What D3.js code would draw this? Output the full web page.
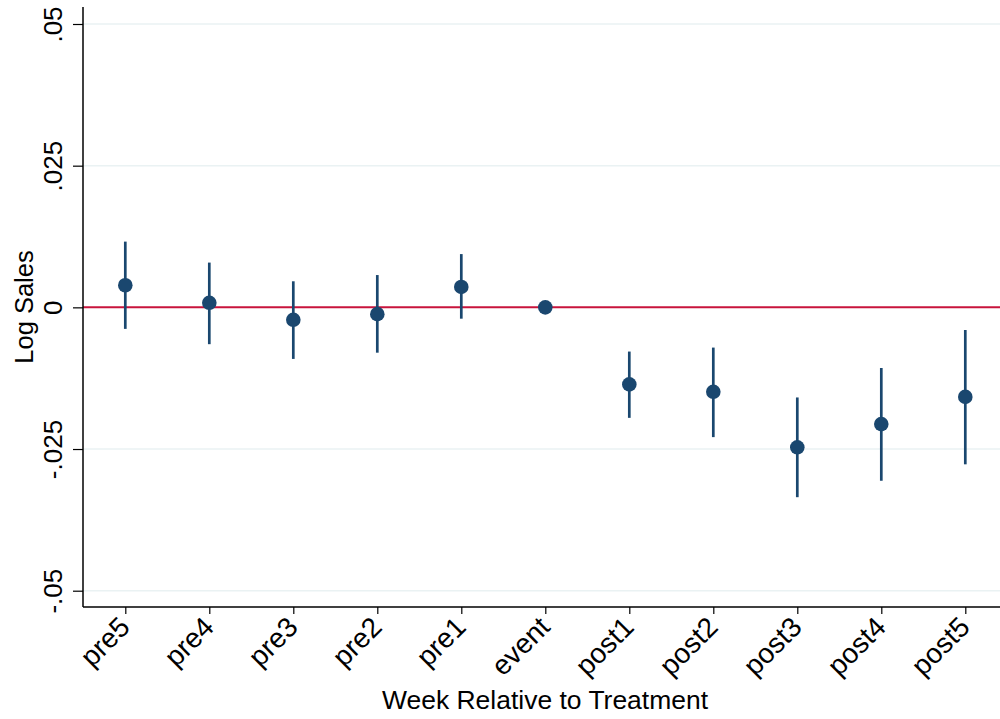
<!DOCTYPE html>
<html><head><meta charset="utf-8">
<script src="https://cdn.jsdelivr.net/npm/d3@7"></script>
<style>body{margin:0;background:#fff}svg{display:block;font-family:"Liberation Sans",Arial,Helvetica,sans-serif}</style>
</head><body>
<svg id="c" width="1000" height="719"></svg>
<script>
const categories = ["pre5","pre4","pre3","pre2","pre1","event","post1","post2","post3","post4","post5"];
const estimates = [0.0039, 0.0008, -0.0022, -0.0012, 0.0036, 0, -0.0136, -0.0149, -0.0247, -0.0206, -0.0158];
const ciLow  = [-0.0038, -0.0065, -0.0091, -0.0080, -0.0020, null, -0.0195, -0.0229, -0.0335, -0.0306, -0.0277];
const ciHigh = [0.0116, 0.0079, 0.0046, 0.0057, 0.0094, null, -0.0078, -0.0071, -0.0159, -0.0107, -0.0040];
const yTicks = [0.05, 0.025, 0, -0.025, -0.05];
const yTickLabels = [".05", ".025", "0", "-.025", "-.05"];

const svg = d3.select("#c");
const axL = 83, axR = 1000, axT = 7, axB = 607;
const y = d3.scaleLinear().domain([-0.05, 0.05]).range([590.7, 24]);
const x = d3.scalePoint().domain(categories).range([125.3, 965.3]);

// gridlines
svg.append("g").selectAll("line").data(yTicks.filter(d => d !== 0)).join("line")
  .attr("x1", axL).attr("x2", axR).attr("y1", d => y(d)).attr("y2", d => y(d))
  .attr("stroke", "#eaf2f3").attr("stroke-width", 1.5);

// zero reference line
svg.append("line").attr("x1", axL).attr("x2", axR).attr("y1", y(0)).attr("y2", y(0))
  .attr("stroke", "#c8143c").attr("stroke-width", 2);

// y axis
const yAxis = d3.axisLeft(y).tickValues(yTicks).tickSize(10).tickSizeOuter(0)
  .tickFormat((d, i) => yTickLabels[i]);
const gy = svg.append("g").attr("transform", `translate(${axL},0)`).call(yAxis);
gy.select(".domain").attr("d", `M0,${axT}V${axB}`).attr("stroke", "#000").attr("stroke-width", 1.5);
gy.selectAll(".tick line").attr("stroke", "#000").attr("stroke-width", 1.2);
gy.selectAll(".tick text").attr("x", null).attr("dy", null)
  .attr("transform", "translate(-21,0) rotate(-90)")
  .attr("text-anchor", "middle").attr("font-size", 26).attr("fill", "#000")
  .attr("font-family", '"Liberation Sans",Arial,sans-serif');

// x axis
const xAxis = d3.axisBottom(x).tickSize(7).tickSizeOuter(0);
const gx = svg.append("g").attr("transform", `translate(0,${axB})`).call(xAxis);
gx.select(".domain").attr("d", `M${axL},0H${axR}`).attr("stroke", "#000").attr("stroke-width", 1.5);
gx.selectAll(".tick line").attr("stroke", "#000").attr("stroke-width", 1.2);
gx.selectAll(".tick text").attr("y", null).attr("dy", null)
  .attr("transform", "translate(-1,15) rotate(-45)")
  .attr("text-anchor", "end").attr("dominant-baseline", "central")
  .attr("font-size", 28).attr("fill", "#000")
  .attr("font-family", '"Liberation Sans",Arial,sans-serif');

// CI lines
const rows = categories.map((c, i) => ({c, est: estimates[i], lo: ciLow[i], hi: ciHigh[i]}));
svg.append("g").selectAll("line").data(rows.filter(d => d.lo !== null)).join("line")
  .attr("x1", d => x(d.c)).attr("x2", d => x(d.c))
  .attr("y1", d => y(d.lo)).attr("y2", d => y(d.hi))
  .attr("stroke", "#1a476f").attr("stroke-width", 2.7);

// points
svg.append("g").selectAll("circle").data(rows).join("circle")
  .attr("cx", d => x(d.c)).attr("cy", d => y(d.est)).attr("r", 7.3)
  .attr("fill", "#1a476f");

// titles
svg.append("text").attr("x", 545).attr("y", 709).attr("text-anchor", "middle")
  .attr("font-size", 26).attr("textLength", 326).attr("lengthAdjust", "spacingAndGlyphs")
  .attr("fill", "#000").text("Week Relative to Treatment");
svg.append("text").attr("transform", "translate(33,307) rotate(-90)").attr("text-anchor", "middle")
  .attr("font-size", 25.5).attr("fill", "#000").text("Log Sales");
</script>
</body></html>
